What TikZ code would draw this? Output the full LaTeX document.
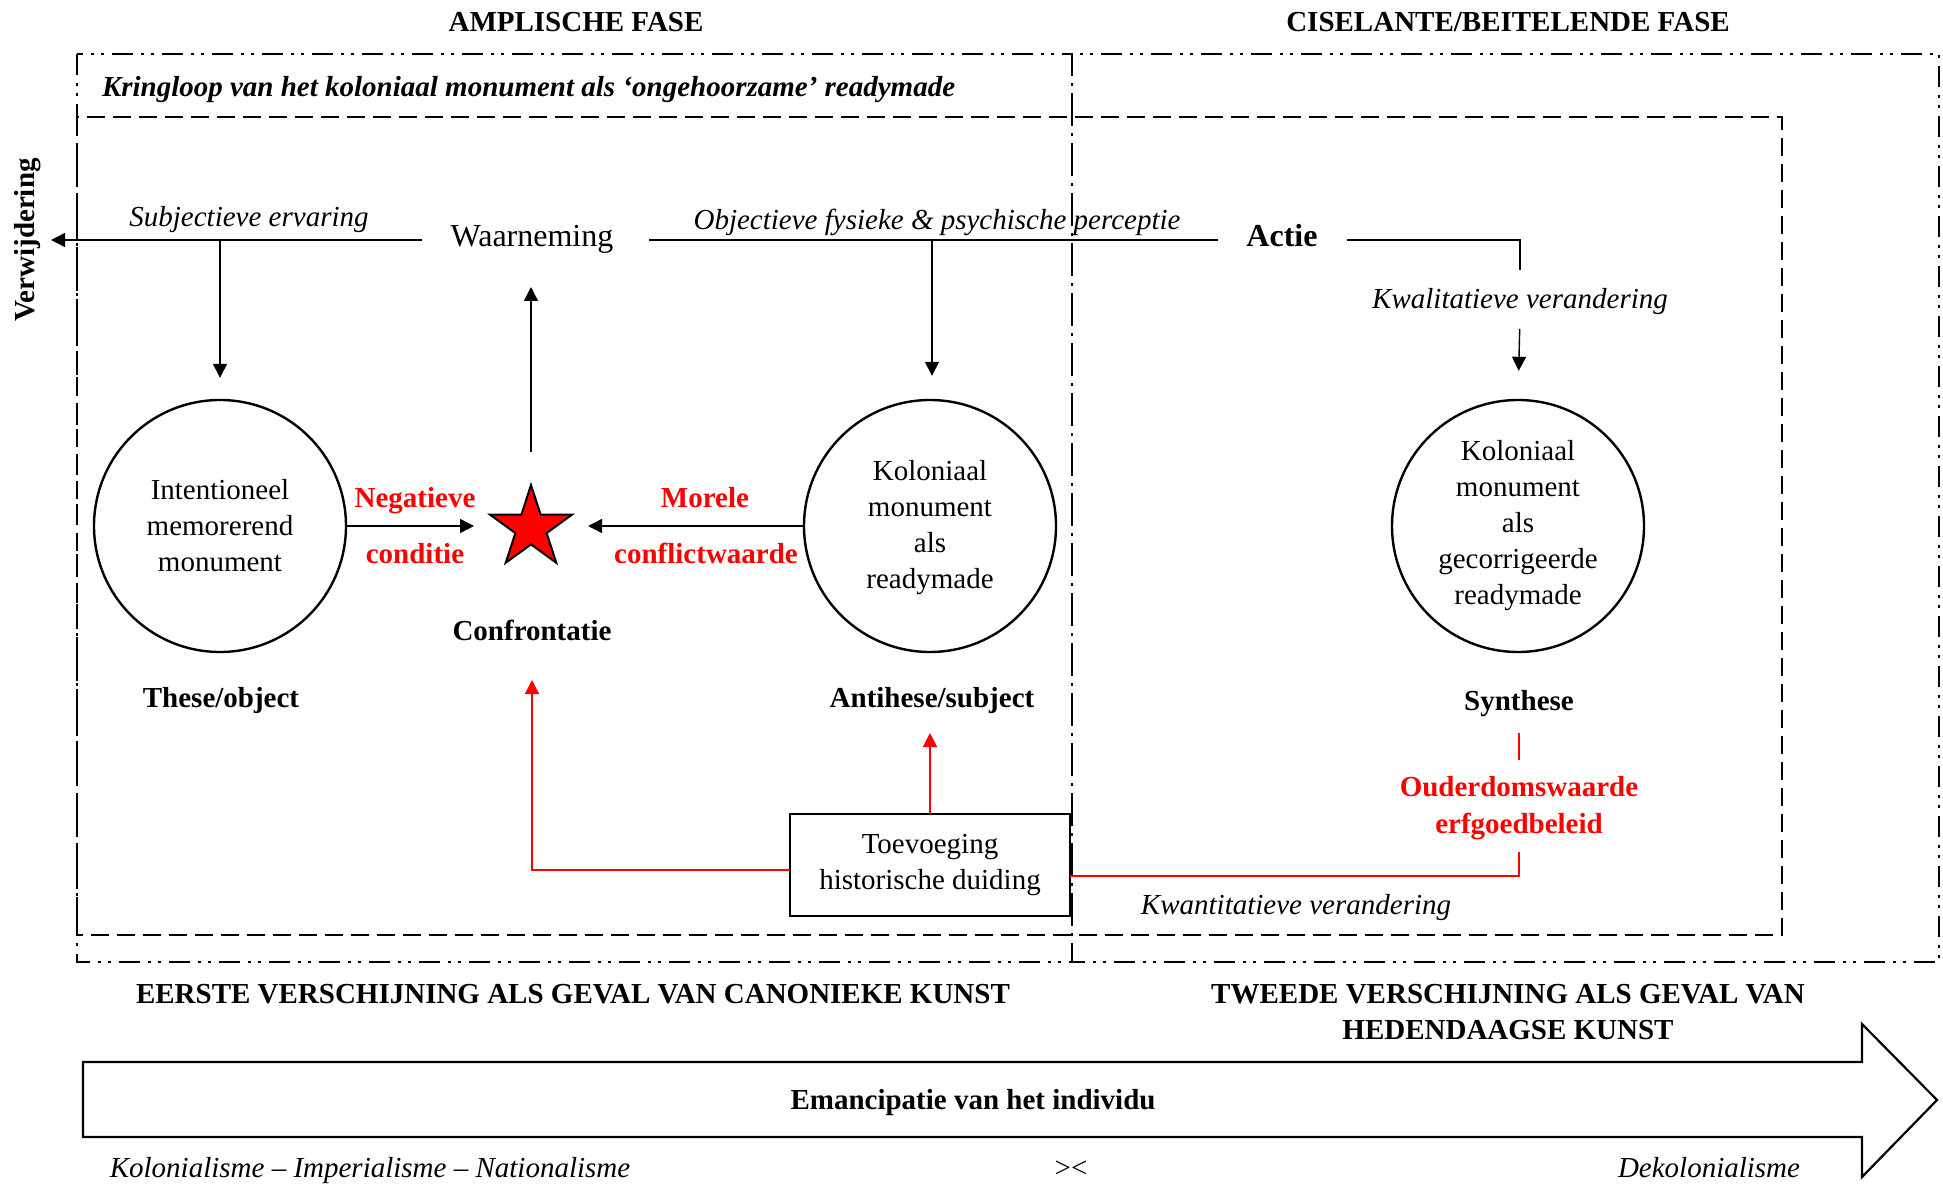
\documentclass[tikz,border=0pt]{standalone}
\usepackage{fontspec}
\setmainfont{Liberation Serif}
\usetikzlibrary{arrows.meta,shapes.geometric}
\definecolor{signal}{RGB}{255,0,0}
\begin{document}
\begin{tikzpicture}[x=0.5pt,y=-0.5pt,
  lbl/.style={inner sep=0pt,outer sep=0pt,text height=10pt,text depth=3.5pt,font=\fontsize{14.5}{18}\selectfont},
  lblb/.style={lbl,font=\fontsize{14.5}{18}\selectfont\bfseries},
  lbli/.style={lbl,font=\fontsize{14.5}{18}\selectfont\itshape},
  lblbi/.style={lbl,font=\fontsize{14.5}{18}\selectfont\bfseries\itshape},
  biglbl/.style={inner sep=0pt,outer sep=0pt,text height=11pt,text depth=4pt,font=\fontsize{16}{19}\selectfont},
  biglblb/.style={biglbl,font=\fontsize{16}{19}\selectfont\bfseries},
  multi/.style={inner sep=0pt,outer sep=0pt,align=center,font=\fontsize{14.5}{18}\selectfont},
  multib/.style={multi,font=\fontsize{14.5}{18.5}\selectfont\bfseries},
  ring/.style={circle,draw,line width=1.2pt,minimum size=126pt,inner sep=0pt,align=center,font=\fontsize{14.5}{18}\selectfont},
  thin/.style={line width=0.7pt},
  arr/.style={thin,-{Triangle[length=7pt,width=7pt]}},
  redline/.style={line width=0.7pt,draw=signal},
  redarr/.style={redline,-{Triangle[length=7pt,width=7pt]}},
  dashbox/.style={line width=1.2pt,dash pattern=on 9pt off 4pt},
  dotbox/.style={line width=1pt,dash pattern=on 10.5pt off 4pt on 1.5pt off 3.5pt on 1.5pt off 4pt},
]
\useasboundingbox (0,0) rectangle (1943,1192);

% frames of the two phases and of the cycle
\draw[dotbox] (77,54) rectangle (1072,962);
\draw[dotbox] (1072,54) rectangle (1939,962);
\draw[dashbox] (77,117) rectangle (1782,935);

% headings
\node[lblb] (fase1) at (576,25) {AMPLISCHE FASE};
\node[lblb] (fase2) at (1508,25) {CISELANTE/BEITELENDE FASE};
\node[lblbi,anchor=west] (kring) at (102,90.5) {Kringloop van het koloniaal monument als ‘ongehoorzame’ readymade};
\node[lblb,rotate=90] (verw) at (28,240) {Verwijdering};

% perception row
\node[biglbl] (waar) at (532,240) {Waarneming};
\node[biglblb] (actie) at (1282,240) {Actie};
\coordinate (verwtip) at (51,240);
\coordinate (subjfork) at (220,240);
\coordinate (objfork) at (932,240);
\node[lbli] (subj) at (249,220.5) {Subjectieve ervaring};
\node[lbli] (obj) at (937,223.5) {Objectieve fysieke \& psychische perceptie};
\node[lbli] (kwal) at (1520,302.5) {Kwalitatieve verandering};

% thesis, antithesis, synthesis
\node[ring] (these) at (220,526) {Intentioneel\\memorerend\\monument};
\node[ring] (anti) at (930,526) {\\[-6pt]Koloniaal\\monument\\als\\readymade};
\node[ring] (synth) at (1518,526) {Koloniaal\\monument\\als\\gecorrigeerde\\readymade};
\node[star,star points=5,star point ratio=2.618,draw,fill=signal,line width=1pt,minimum size=43pt,inner sep=0pt] (star) at (531,528) {};

\node[lblb,text=signal] (neg1) at (415,500.5) {Negatieve};
\node[lblb,text=signal] (neg2) at (415,556.5) {conditie};
\node[lblb,text=signal] (mor1) at (705,500.5) {Morele};
\node[lblb,text=signal] (mor2) at (706,556.5) {conflictwaarde};
\node[lblb] (confr) at (532,633.5) {Confrontatie};
\node[lblb] (thesel) at (221,700.5) {These/object};
\node[lblb] (antil) at (932,700.5) {Antihese/subject};
\node[lblb] (synthl) at (1519,703.5) {Synthese};
\node[multib,text=signal] (ouder) at (1519,808) {Ouderdomswaarde\\erfgoedbeleid};
\node[multi,draw,line width=0.8pt,minimum width=140pt,minimum height=51pt] (toev) at (930,865) {Toevoeging\\historische duiding};
\node[lbli] (kwant) at (1296,908) {Kwantitatieve verandering};

% connectors
\draw[arr] ([xshift=-14.5pt]waar.west) -- (verwtip);
\draw[arr,shorten >=10.5pt] (subjfork) -- (these.north);
\draw[thin] ([xshift=18pt]waar.east) -- ([xshift=-14pt]actie.west);
\draw[arr,shorten >=11.5pt] (objfork) -- (objfork |- anti.north);
\draw[thin] ([xshift=14.5pt]actie.east) -| ([yshift=9.5pt]kwal.north);
\draw[arr,shorten <=6.5pt,shorten >=14pt] (kwal.south) -- (synth.north);
\draw[arr,shorten >=28.5pt] (these.east) -- (these.east -| star.center);
\draw[arr,shorten >=28.5pt] (anti.west) -- (anti.west -| star.center);
\draw[arr,shorten <=38pt,shorten >=16pt] (star.center) -- (star.center |- waar.south);

\draw[redarr,shorten >=9.5pt] (toev.north) -- (toev.north |- antil.south);
\draw[redarr,shorten >=16.5pt] ([yshift=-2.5pt]toev.west) -| (confr.south);
\draw[redline] ([yshift=-8pt]synthl.south) -- ([yshift=8pt]ouder.north);
\draw[redline] ([yshift=-6pt]ouder.south) |- ([yshift=-5.5pt]toev.east);

% appearances and the emancipation arrow
\node[lblb] (eerste) at (573,996.5) {EERSTE VERSCHIJNING ALS GEVAL VAN CANONIEKE KUNST};
\node[multib,font=\fontsize{14.5}{18}\selectfont\bfseries] (tweede) at (1508,1012) {TWEEDE VERSCHIJNING ALS GEVAL VAN\\HEDENDAAGSE KUNST};
\draw[line width=1.1pt] (83,1062) -- (1862,1062) -- (1862,1024) -- (1937,1100) -- (1862,1177) -- (1862,1137) -- (83,1137) -- cycle;
\node[lblb] (eman) at (973,1102.5) {Emancipatie van het individu};
\node[lbli] (kol) at (370,1171) {Kolonialisme -- Imperialisme -- Nationalisme};
\node[lbl] (cross) at (1071,1171) {><};
\node[lbli] (dekol) at (1709,1171) {Dekolonialisme};
\end{tikzpicture}
\end{document}
